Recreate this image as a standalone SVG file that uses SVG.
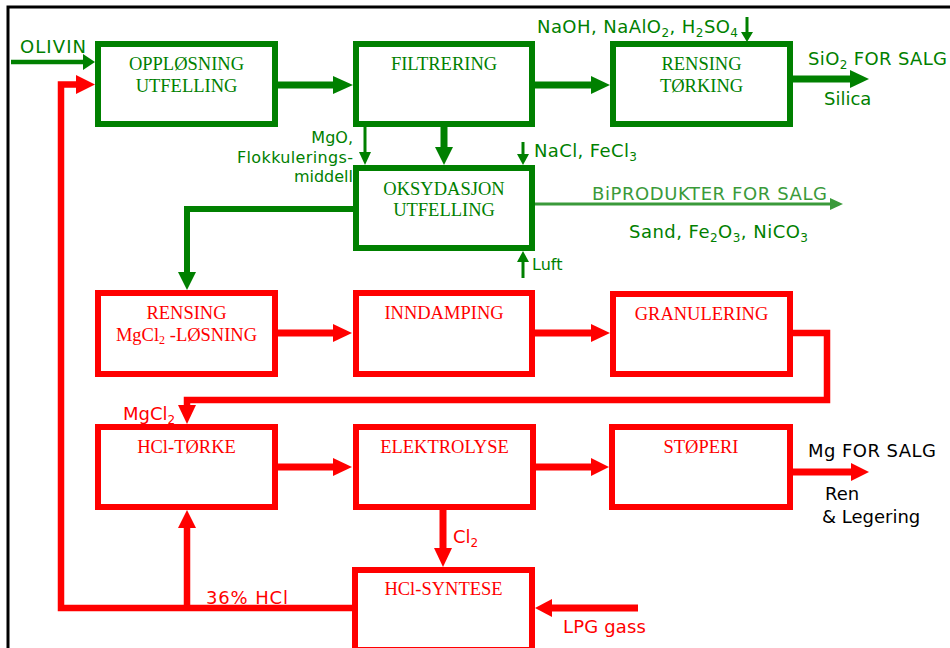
<svg xmlns="http://www.w3.org/2000/svg" width="950" height="648" viewBox="0 0 950 648">
<style>
.bg{fill:#fff}
.gbox{fill:#fff;stroke:#008000;stroke-width:6}
.rbox{fill:#fff;stroke:#ff0000;stroke-width:6}
.bt{font-family:"Liberation Serif","Times New Roman",serif;font-size:18.5px;text-anchor:middle}
.gt{fill:#008000}
.rt{fill:#ff0000}
.lb{font-family:"DejaVu Sans",Verdana,sans-serif;font-size:18px}
.sm{font-size:16px}
.gl{fill:none;stroke:#008000;stroke-width:7}
.gthin{fill:none;stroke:#008000;stroke-width:3}
.rl{fill:none;stroke:#ff0000;stroke-width:6.5}
.gh{fill:#008000}
.rh{fill:#ff0000}
.lg{fill:#3a9a3a}
.sub{font-size:12px}
</style>
<rect class="bg" x="0" y="0" width="950" height="648"/>
<path d="M8,648 V7 H950" fill="none" stroke="#000" stroke-width="3"/>

<g id="connectors">
  <!-- green -->
  <path class="gthin" d="M11,62 H84" style="stroke-width:4.5"/>
  <polygon class="gh" points="83,54 95,62 83,70"/>
  <path class="gl" d="M278,85 H334"/>
  <polygon class="gh" points="333,76 353,85 333,94"/>
  <path class="gl" d="M535,85 H592"/>
  <polygon class="gh" points="591,76 610,85 591,94"/>
  <path class="gl" d="M793,79 H851"/>
  <polygon class="gh" points="850,70 869,79 850,88"/>
  <path class="gthin" d="M747,17 V33"/>
  <polygon class="gh" points="741,32 747,42 753,32"/>
  <path class="gl" d="M444,127 V148"/>
  <polygon class="gh" points="435,147 444,165 453,147"/>
  <path class="gthin" d="M365,122 V153"/>
  <polygon class="gh" points="359,152 365,165 371,152"/>
  <path class="gthin" d="M523,142 V155"/>
  <polygon class="gh" points="517,154 523,165 529,154"/>
  <path class="gthin" d="M523,278 V261"/>
  <polygon class="gh" points="517,262 523,251 529,262"/>
  <path d="M535,204 H831" fill="none" stroke="#3a9a3a" stroke-width="3"/>
  <polygon class="lg" points="830,198 843,204 830,210"/>
  <path class="gl" d="M353,209 H187 V273" style="stroke-width:6"/>
  <polygon class="gh" points="178,272 187,290 196,272"/>
  <!-- red -->
  <path class="rl" d="M353,608 H61 V84.5 H77"/>
  <polygon class="rh" points="76,75 95,84.5 76,94"/>
  <path class="rl" d="M187,608 V527"/>
  <polygon class="rh" points="178,528 187,510 196,528"/>
  <path class="rl" d="M278,333 H334" style="stroke-width:7"/>
  <polygon class="rh" points="333,324 352,333 333,342"/>
  <path class="rl" d="M535,333 H592" style="stroke-width:7"/>
  <polygon class="rh" points="591,324 610,333 591,342"/>
  <path class="rl" d="M793,333 H827 V400 H187 V406"/>
  <polygon class="rh" points="178,405 187,424 196,405"/>
  <path class="rl" d="M278,467 H334" style="stroke-width:7"/>
  <polygon class="rh" points="333,458 352,467 333,476"/>
  <path class="rl" d="M536,467 H592" style="stroke-width:7"/>
  <polygon class="rh" points="591,458 609,467 591,476"/>
  <path class="rl" d="M793,472 H852" style="stroke-width:7"/>
  <polygon class="rh" points="851,463 869,472 851,481"/>
  <path class="rl" d="M443,510 V549" style="stroke-width:7"/>
  <polygon class="rh" points="434,548 443,567 452,548"/>
  <path class="rl" d="M638,608 H552" style="stroke-width:7"/>
  <polygon class="rh" points="552,599 535,608 552,617"/>
</g>

<g id="n-opplosning">
  <rect class="gbox" x="98" y="44" width="177" height="80"/>
  <text class="bt gt" x="186.5" y="70">OPPLØSNING</text>
  <text class="bt gt" x="186.5" y="92">UTFELLING</text>
</g>
<g id="n-filtrering">
  <rect class="gbox" x="356" y="44" width="176" height="80"/>
  <text class="bt gt" x="444" y="70">FILTRERING</text>
</g>
<g id="n-rensing-torking">
  <rect class="gbox" x="613" y="44" width="177" height="80"/>
  <text class="bt gt" x="701.5" y="70">RENSING</text>
  <text class="bt gt" x="701.5" y="92">TØRKING</text>
</g>
<g id="n-oksydasjon">
  <rect class="gbox" x="356" y="168" width="176" height="80"/>
  <text class="bt gt" x="444" y="195">OKSYDASJON</text>
  <text class="bt gt" x="444" y="216">UTFELLING</text>
</g>
<g id="n-rensing-mgcl2">
  <rect class="rbox" x="98" y="293" width="177" height="81"/>
  <text class="bt rt" x="186.5" y="319">RENSING</text>
  <text class="bt rt" x="186.5" y="341">MgCl<tspan class="sub" dy="3">2</tspan><tspan dy="-3"> -LØSNING</tspan></text>
</g>
<g id="n-inndamping">
  <rect class="rbox" x="356" y="293" width="176" height="81"/>
  <text class="bt rt" x="444" y="319">INNDAMPING</text>
</g>
<g id="n-granulering">
  <rect class="rbox" x="613" y="294" width="177" height="80"/>
  <text class="bt rt" x="701.5" y="320">GRANULERING</text>
</g>
<g id="n-hcl-torke">
  <rect class="rbox" x="98" y="427" width="177" height="80"/>
  <text class="bt rt" x="186.5" y="453">HCl-TØRKE</text>
</g>
<g id="n-elektrolyse">
  <rect class="rbox" x="356" y="427" width="177" height="80"/>
  <text class="bt rt" x="444.5" y="453">ELEKTROLYSE</text>
</g>
<g id="n-stoperi">
  <rect class="rbox" x="612" y="427" width="178" height="80"/>
  <text class="bt rt" x="701" y="453">STØPERI</text>
</g>
<g id="n-hcl-syntese">
  <rect class="rbox" x="355" y="570" width="177" height="80"/>
  <text class="bt rt" x="443.5" y="595">HCl-SYNTESE</text>
</g>

<g id="labels">
  <text class="lb gt" x="20" y="53" textLength="66" lengthAdjust="spacing">OLIVIN</text>
  <text class="lb gt" x="537" y="33" textLength="201" lengthAdjust="spacing">NaOH, NaAlO<tspan class="sub" dy="4">2</tspan><tspan dy="-4">, H</tspan><tspan class="sub" dy="4">2</tspan><tspan dy="-4">SO</tspan><tspan class="sub" dy="4">4</tspan></text>
  <text class="lb gt" x="808" y="65" textLength="139" lengthAdjust="spacing">SiO<tspan class="sub" dy="4">2</tspan><tspan dy="-4"> FOR SALG</tspan></text>
  <text class="lb gt" x="824" y="105">Silica</text>
  <text class="lb sm gt" x="353" y="143" text-anchor="end">MgO,</text>
  <text class="lb sm gt" x="353" y="163" text-anchor="end" textLength="116" lengthAdjust="spacing">Flokkulerings-</text>
  <text class="lb sm gt" x="353" y="182" text-anchor="end">middell</text>
  <text class="lb gt" x="534" y="157" textLength="103" lengthAdjust="spacing">NaCl, FeCl<tspan class="sub" dy="4">3</tspan></text>
  <text class="lb lg" x="592" y="200" textLength="235" lengthAdjust="spacing">BiPRODUKTER FOR SALG</text>
  <text class="lb gt" x="629" y="238" textLength="179" lengthAdjust="spacing">Sand, Fe<tspan class="sub" dy="4">2</tspan><tspan dy="-4">O</tspan><tspan class="sub" dy="4">3</tspan><tspan dy="-4">, NiCO</tspan><tspan class="sub" dy="4">3</tspan></text>
  <text class="lb sm gt" x="532" y="270">Luft</text>
  <text class="lb rt" x="123" y="420">MgCl<tspan class="sub" dy="4">2</tspan></text>
  <text class="lb" x="808" y="457" fill="#000" textLength="128" lengthAdjust="spacing">Mg FOR SALG</text>
  <text class="lb" x="825" y="500" fill="#000">Ren</text>
  <text class="lb" x="822" y="523" fill="#000">&amp; Legering</text>
  <text class="lb rt" x="453" y="543">Cl<tspan class="sub" dy="4">2</tspan></text>
  <text class="lb rt" x="206" y="604" textLength="82" lengthAdjust="spacing">36% HCl</text>
  <text class="lb rt" x="563" y="633" textLength="83" lengthAdjust="spacing">LPG gass</text>
</g>
</svg>
